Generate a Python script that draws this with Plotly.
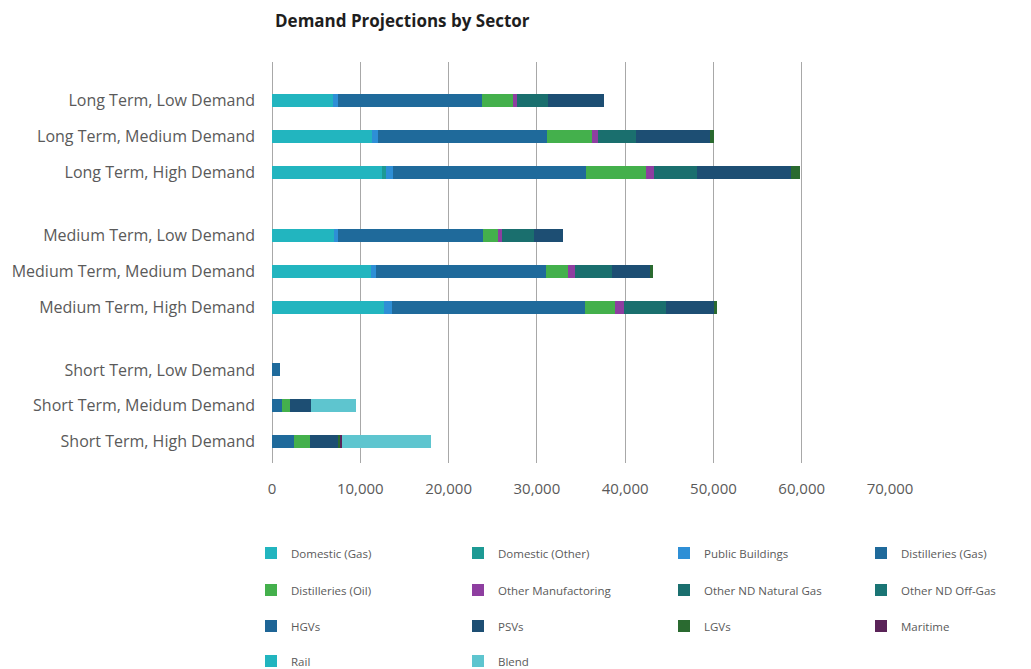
import plotly.graph_objects as go

categories = [
    "Long Term, Low Demand", "Long Term, Medium Demand", "Long Term, High Demand",
    "Medium Term, Low Demand", "Medium Term, Medium Demand", "Medium Term, High Demand",
    "Short Term, Low Demand", "Short Term, Meidum Demand", "Short Term, High Demand",
]
# vertical slot of each category (groups separated by a gap)
slots = [0, 1, 2, 3.75, 4.75, 5.75, 7.5, 8.5, 9.5]

series_names = [
    "Domestic (Gas)", "Domestic (Other)", "Public Buildings", "Distilleries (Gas)",
    "Distilleries (Oil)", "Other Manufactoring", "Other ND Natural Gas", "Other ND Off-Gas",
    "HGVs", "PSVs", "LGVs", "Maritime", "Rail", "Blend",
]
domestic_gas = [6950, 11300, 12500, 6980, 11200, 12650, 0, 0, 0]
domestic_other = [0, 0, 370, 0, 0, 0, 0, 0, 0]
public_buildings = [520, 690, 810, 490, 600, 940, 0, 0, 0]
distilleries_gas = [16370, 19200, 21860, 16380, 19210, 21820, 940, 1130, 2530]
distilleries_oil = [3430, 5050, 6820, 1730, 2490, 3390, 0, 870, 1730]
other_manufacturing = [490, 650, 930, 500, 870, 1020, 0, 0, 0]
other_nd_natural_gas = [3470, 4320, 4850, 3540, 4190, 4790, 0, 0, 0]
other_nd_off_gas = [0, 0, 0, 0, 0, 0, 0, 0, 0]
hgvs = [0, 0, 0, 0, 0, 0, 0, 0, 0]
psvs = [6350, 8450, 10590, 3290, 4340, 5510, 0, 2420, 3170]
lgvs = [0, 440, 1130, 0, 220, 310, 0, 0, 300]
maritime = [0, 0, 0, 0, 0, 0, 0, 0, 250]
rail = [0, 0, 0, 0, 0, 0, 0, 0, 0]
blend = [0, 0, 0, 0, 0, 0, 0, 5090, 10070]

series_values = [
    domestic_gas, domestic_other, public_buildings, distilleries_gas, distilleries_oil,
    other_manufacturing, other_nd_natural_gas, other_nd_off_gas, hgvs, psvs, lgvs,
    maritime, rail, blend,
]
colors = [
    "#22b5bf", "#1d9a94", "#2e8fd6", "#1f6a9b", "#44b04c", "#8e3ea0", "#1a6f6e",
    "#1a7575", "#1e6596", "#1d4e73", "#2a6a30", "#5a2358", "#22b5bf", "#5ec5cf",
]

x_ticks = [0, 10000, 20000, 30000, 40000, 50000, 60000, 70000]
x_ticktext = ["0", "10,000", "20,000", "30,000", "40,000", "50,000", "60,000", "70,000"]

FONT = "'Open Sans', 'DejaVu Sans', sans-serif"
TXT = "#5a5a5a"

# page has an 8px body margin; figure sized to fit the window
W, H = 1023, 661
L, R, T, B = 264, 882, 54, 455
unit = 35.9
y_top = (62 - 100.7) / unit
y_bot = (463 - 100.7) / unit

fig = go.Figure()
legend_ids = ["legend"] + ["legend%d" % (i + 1) for i in range(1, len(series_names))]
for i, (name, vals, col) in enumerate(zip(series_names, series_values, colors)):
    fig.add_trace(go.Bar(
        name=name, y=slots, x=vals, orientation="h",
        marker=dict(color=col, line=dict(width=0)),
        width=0.36,
        legend=legend_ids[i],
        showlegend=True,
    ))

col_px = [243, 450, 656, 853]     # frame px of each legend column's left edge
row_px = [545, 582, 618, 653]     # frame px of each legend row centre
legends = {}
for i, lid in enumerate(legend_ids):
    r, c = divmod(i, 4)
    legends[lid] = dict(
        orientation="v",
        font=dict(family=FONT, size=11.5, color=TXT), bgcolor="rgba(0,0,0,0)",
        xanchor="left", yanchor="middle",
        x=(col_px[c] - L) / (R - L), y=(B - row_px[r]) / (B - T),
        itemclick=False, itemdoubleclick=False,
    )

fig.update_layout(
    width=W, height=H,
    margin=dict(l=L, r=W - R, t=T, b=H - B, autoexpand=False),
    barmode="stack",
    plot_bgcolor="white", paper_bgcolor="white",
    font=dict(family=FONT, color=TXT),
    title=dict(text="<b>Demand Projections by Sector</b>", x=267 / W, xanchor="left",
               y=1 - 13 / H, yanchor="middle",
               font=dict(family=FONT, size=17, color="#1e1e1e")),
    xaxis=dict(range=[0, 70000], tickvals=x_ticks, ticktext=x_ticktext,
               showgrid=True, gridcolor="#a8a8a8", gridwidth=1,
               zeroline=True, zerolinecolor="#a8a8a8", zerolinewidth=1,
               showline=False, ticks="", ticklabelstandoff=15,
               tickfont=dict(family=FONT, size=15, color=TXT)),
    yaxis=dict(range=[y_bot, y_top], tickvals=slots, ticktext=categories,
               showgrid=False, zeroline=False, showline=False, ticks="",
               ticklabelstandoff=16,
               tickfont=dict(family=FONT, size=16, color=TXT)),
    **legends,
)

fig.write_html("out.html")
